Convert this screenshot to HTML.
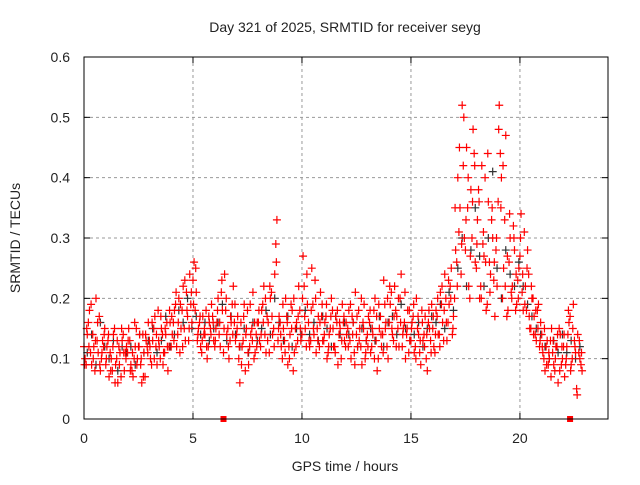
<!DOCTYPE html>
<html><head><meta charset="utf-8"><style>
body{margin:0;background:#fff;width:640px;height:480px;overflow:hidden}
svg text{font-family:"Liberation Sans",sans-serif;font-size:14px;fill:#222}
</style></head><body>
<svg id="chart" width="640" height="480">
<text x="345" y="32" text-anchor="middle">Day 321 of 2025, SRMTID for receiver seyg</text>
<text x="20" y="238" text-anchor="middle" transform="rotate(-90 20 238)">SRMTID / TECUs</text>
<text x="345" y="471" text-anchor="middle">GPS time / hours</text>
<g id="grid"></g>
<g id="black"></g>
<g id="red"></g>
<rect x="84" y="57" width="524" height="362" fill="none" stroke="#000" stroke-width="1"/>
</svg>
<script>
const xTicks=[0,5,10,15,20];
const yTicks=[0,0.1,0.2,0.3,0.4,0.5,0.6];
const yTickLabels=["0","0.1","0.2","0.3","0.4","0.5","0.6"];
const redA=[.10,.14,.18,.09,.12,.20,.11,.08,.13,.15,.12,.07,.10,.14,.09,.06,.11,.13,.08,.12,.15,.09,.07,.12,.10,.14,.06,.11,.13,.16,.10,.13,.17,.09,.12,.15,.11,.14,.08,.16,.14,.18,.12,.20,.15,.22,.13,.17,.24,.16,.26,.21,.15,.12,.17,.14,.10,.16,.19,.13,.15,.20,.12,.18,.24,.14,.10,.16,.22,.13,.17,.06,.12,.19,.15,.09,.14,.21,.11,.16,.13,.18,.22,.11,.16,.20,.14,.24,.33,.17,.12,.15,.20,.09,.14,.18,.11,.16,.22,.13,.27,.15,.19,.12,.25,.14,.11,.17,.21,.13,.16,.10,.14,.20,.12,.17,.09,.15,.19,.13,.14,.18,.10,.16,.21,.12,.15,.09,.19,.13,.17,.11,.14,.20,.08,.15,.12,.23,.16,.10,.19,.14,.22,.17,.12,.24,.15,.10,.18,.13,.16,.11,.20,.14,.09,.13,.17,.08,.15,.19,.12,.18,.14,.21,.16,.24,.13,.19,.25,.17,.28,.40,.35,.52,.30,.45,.22,.38,.48,.26,.33,.20,.42,.27,.18,.36,.24,.30,.17,.22,.52,.40,.25,.47,.18,.30,.22,.28,.19,.25,.34,.18,.22,.28,.15,.20,.17,.13,.19,.16,.11,.08,.13,.10,.15,.09,.12,.06,.14,.10,.07,.12,.16,.09,.19,.11,.14,.10,.08];
const redB=[.12,.09,.16,.11,.14,.08,.13,.17,.10,.12,.09,.13,.11,.08,.15,.10,.12,.07,.14,.11,.11,.13,.08,.10,.15,.12,.09,.14,.07,.12,.13,.09,.15,.12,.18,.10,.14,.11,.16,.12,.12,.16,.19,.14,.11,.18,.15,.21,.13,.19,.23,.18,.13,.16,.11,.14,.18,.12,.15,.17,.12,.16,.14,.21,.11,.18,.15,.13,.19,.16,.14,.10,.16,.13,.08,.18,.12,.15,.10,.14,.16,.12,.19,.14,.17,.11,.21,.15,.29,.13,.16,.10,.13,.17,.12,.19,.08,.15,.13,.18,.14,.22,.12,.16,.13,.19,.23,.15,.12,.17,.13,.17,.11,.15,.18,.12,.16,.14,.10,.16,.12,.15,.13,.17,.11,.14,.18,.12,.16,.10,.14,.16,.12,.18,.13,.10,.17,.14,.19,.12,.16,.21,.13,.18,.15,.20,.12,.16,.14,.11,.13,.17,.12,.15,.11,.18,.14,.10,.16,.13,.15,.11,.17,.14,.19,.13,.20,.16,.22,.14,.20,.26,.31,.24,.42,.28,.35,.20,.30,.44,.25,.38,.22,.29,.40,.19,.26,.33,.23,.28,.36,.44,.20,.33,.17,.26,.21,.32,.18,.23,.27,.21,.31,.18,.24,.15,.20,.14,.18,.12,.14,.10,.12,.09,.13,.11,.08,.12,.15,.09,.12,.09,.14,.17,.10,.13,.05,.11,.09];
const redC=[.09,.15,.12,.19,.10,.13,.16,.09,.11,.14,.10,.14,.08,.12,.06,.13,.09,.15,.11,.10,.13,.08,.11,.16,.09,.12,.10,.07,.14,.11,.12,.16,.10,.14,.13,.17,.09,.15,.12,.18,.17,.13,.21,.16,.19,.12,.23,.18,.15,.21,.19,.25,.14,.17,.13,.15,.12,.17,.14,.16,.13,.18,.16,.23,.15,.20,.12,.17,.14,.19,.15,.12,.09,.17,.14,.11,.19,.13,.16,.12,.18,.14,.16,.20,.13,.22,.17,.12,.26,.15,.14,.19,.11,.16,.10,.15,.20,.12,.17,.15,.20,.17,.24,.13,.18,.15,.20,.13,.16,.19,.14,.19,.12,.17,.15,.11,.18,.16,.13,.17,.16,.12,.19,.14,.09,.17,.13,.20,.15,.11,.12,.18,.15,.10,.17,.19,.14,.11,.15,.20,.22,.15,.17,.12,.20,.16,.14,.21,.15,.18,.15,.19,.10,.17,.13,.16,.12,.14,.18,.11,.17,.14,.20,.12,.22,.18,.16,.23,.20,.15,.35,.22,.45,.29,.50,.33,.40,.27,.36,.42,.29,.36,.20,.31,.26,.44,.21,.35,.26,.30,.48,.35,.42,.22,.27,.34,.20,.30,.24,.20,.30,.24,.19,.25,.17,.22,.14,.18,.15,.13,.12,.15,.09,.11,.07,.13,.10,.14,.08,.12,.14,.10,.18,.08,.15,.12,.04,.13,.11];
const blackS=[.11,.14,.09,.16,.12,.10,.13,.08,.12,.11,.12,.09,.14,.11,.13,.15,.11,.13,.17,.12,.14,.18,.16,.20,.15,.17,.14,.16,.13,.15,.16,.19,.13,.17,.14,.12,.15,.11,.16,.13,.15,.18,.14,.20,.16,.13,.17,.12,.15,.14,.18,.14,.16,.13,.17,.15,.12,.17,.14,.16,.14,.16,.12,.15,.13,.15,.13,.17,.12,.16,.17,.14,.19,.15,.13,.14,.16,.12,.15,.17,.16,.19,.15,.21,.18,.25,.30,.22,.28,.35,.27,.22,.30,.41,.25,.20,.28,.24,.22,.26,.22,.19,.17,.15,.14,.12,.10,.13,.11,.14,.11,.13,.10,.12];
const zeroTimes=[6.4,22.3];
const X0=84,X1=608,Y0=419,Y1=57,XMAX=24.04,YMAX=0.6;
const sx=t=>X0+(X1-X0)*t/XMAX, sy=v=>Y0-(Y0-Y1)*v/YMAX;
const NS="http://www.w3.org/2000/svg";
function mk(tag,attrs,parent){const e=document.createElementNS(NS,tag);for(const k in attrs)e.setAttribute(k,attrs[k]);parent.appendChild(e);return e;}
const grid=document.getElementById('grid');
xTicks.forEach(t=>{const x=sx(t);
 if(t>0){const l=mk('line',{x1:x,x2:x,y1:Y1,y2:Y0,stroke:'#999','stroke-dasharray':'3,3'},grid);}
 const a=mk('line',{x1:x,x2:x,y1:Y0,y2:Y0-6,stroke:'#000'},grid);
 const b=mk('line',{x1:x,x2:x,y1:Y1,y2:Y1+6,stroke:'#000'},grid);
 const tx=mk('text',{x:x,y:443,'text-anchor':'middle'},grid);tx.textContent=String(t);
 });
yTicks.forEach((v,i)=>{const y=sy(v);
 if(v>0&&v<0.6){const l=mk('line',{x1:X0,x2:X1,y1:y,y2:y,stroke:'#999','stroke-dasharray':'3,3'},grid);}
 const a=mk('line',{x1:X0,x2:X0+6,y1:y,y2:y,stroke:'#000'},grid);
 const b=mk('line',{x1:X1,x2:X1-6,y1:y,y2:y,stroke:'#000'},grid);
 const tx=mk('text',{x:70,y:y+5,'text-anchor':'end'},grid);tx.textContent=yTickLabels[i];
 });
function plus(g,t,v,c){const x=sx(t),y=sy(v);
 const p=mk('path',{d:`M${x-4} ${y}H${x+4}M${x} ${y-4}V${y+4}`,stroke:c,'stroke-width':1.2,fill:'none'},g);
 }
const gb=document.getElementById('black'),gr=document.getElementById('red');
blackS.forEach((v,i)=>plus(gb,0.15+0.2*i,v,'#333'));
redB.forEach((v,i)=>plus(gr,0.1*i,v,'#f00'));
redC.forEach((v,i)=>plus(gr,0.025+0.1*i,v,'#f00'));
redA.forEach((v,i)=>plus(gr,0.05+0.1*i,v,'#f00'));
zeroTimes.forEach(t=>{const r=mk('rect',{x:sx(t)-3,y:Y0-3,width:6,height:6,fill:'#f00'},gr);
 });
</script>
</body></html>
